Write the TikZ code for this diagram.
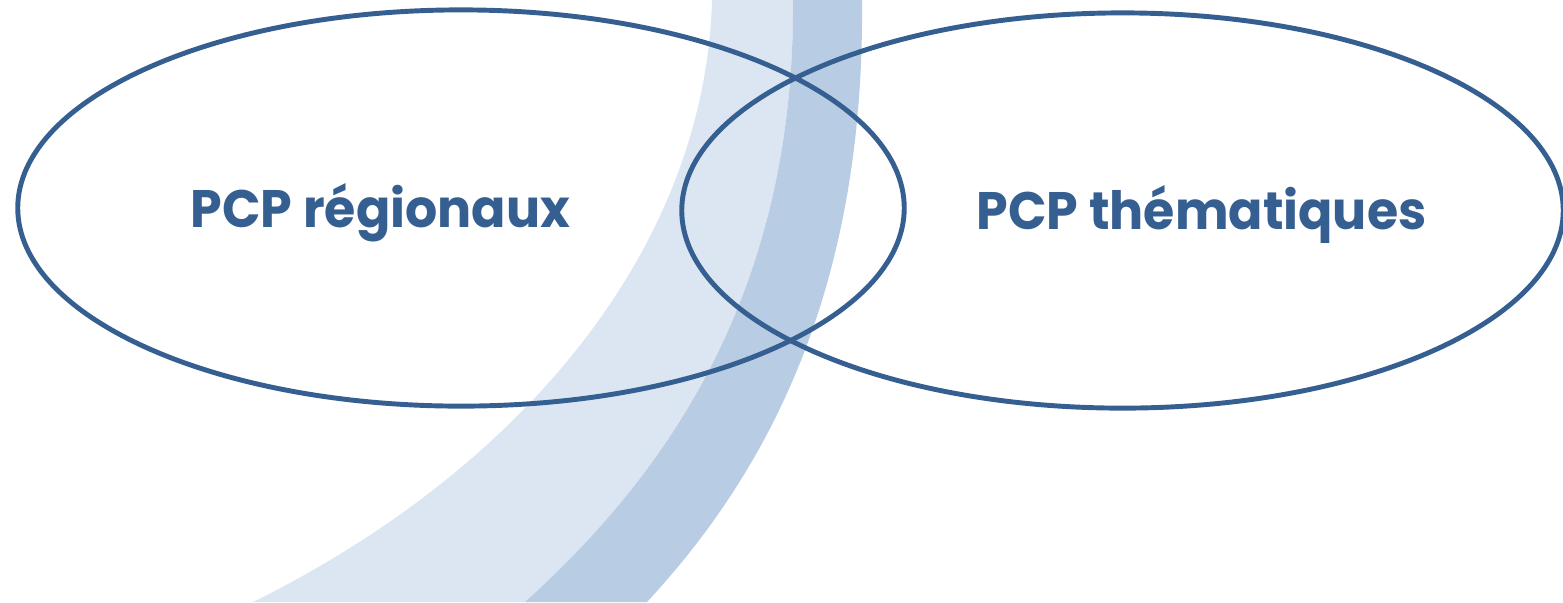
\documentclass[tikz,border=0pt]{standalone}
\usepackage{fontspec}
\newfontfamily\labelfont[FakeStretch=0.96]{Poppins}
\usetikzlibrary{shapes.geometric}
\definecolor{accent}{RGB}{54,95,145}
\definecolor{bandlight}{RGB}{220,230,242}
\definecolor{banddark}{RGB}{184,204,228}
\tikzset{
  setellipse/.style={ellipse, draw=accent, line width=1.4pt, inner sep=0pt, outer sep=0pt},
  setlabel/.style={anchor=base west, inner sep=0pt, text=accent, font=\labelfont\fontsize{15}{18}\selectfont\bfseries}
}
\begin{document}
\begin{tikzpicture}[x=0.01cm, y=-0.01cm]
\useasboundingbox (0,0) rectangle (1563,602);
% background swoosh
\fill[bandlight] (712,0) .. controls (705,250) and (520,470) .. (253,602)
  -- (525,602) .. controls (660,480) and (795,300) .. (793,0) -- cycle;
\fill[banddark] (793,0) .. controls (795,300) and (660,480) .. (525,602)
  -- (647,602) .. controls (760,480) and (865,300) .. (862,0) -- cycle;
% ellipses
\node[setellipse, minimum width=8.86cm, minimum height=3.96cm] (regional) at (461,208) {};
\node[setellipse, minimum width=8.81cm, minimum height=3.95cm] (thematic) at (1122.5,210.5) {};
% labels
\node[setlabel] (lregional) at (190,227) {PCP régionaux};
\node[setlabel] (lthematic) at (976,229) {PCP thématiques};
\end{tikzpicture}
\end{document}
